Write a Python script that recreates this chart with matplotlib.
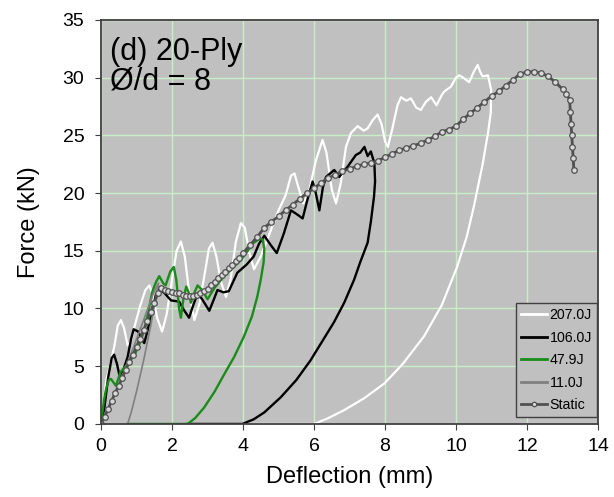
import matplotlib
matplotlib.use("Agg")
import matplotlib.pyplot as plt

plt.rcParams['font.family'] = ['Liberation Sans', 'DejaVu Sans']

# 207.0J (white)
x207 = [0, 0.08, 0.15, 0.25, 0.38, 0.47, 0.56, 0.65, 0.75, 0.85, 0.95, 1.1, 1.25, 1.36, 1.46, 1.58, 1.72,
        1.85, 2.0, 2.13, 2.25, 2.36, 2.48, 2.63, 2.78, 2.92, 3.04, 3.14, 3.25, 3.38, 3.52, 3.65, 3.8, 3.94,
        4.05, 4.18, 4.31, 4.5, 4.75, 5.0, 5.2, 5.35, 5.45, 5.55, 5.7, 5.85, 6.05, 6.24, 6.35, 6.5, 6.62,
        6.75, 6.9, 7.04, 7.23, 7.4, 7.51, 7.65, 7.79, 7.9, 8.0, 8.08, 8.2, 8.35, 8.45, 8.6, 8.73, 8.88,
        9.01, 9.15, 9.3, 9.45, 9.6, 9.67, 9.85, 10.0, 10.09, 10.2, 10.37, 10.5, 10.61, 10.68, 10.75, 10.9,
        10.99, 10.98, 10.9, 10.75, 10.5, 10.3, 10.03, 9.6, 9.1, 8.5, 7.98, 7.4, 6.85, 6.4, 6.0, 3.98]
y207 = [0, 2.0, 3.8, 5.0, 6.8, 8.5, 9.0, 8.3, 6.8, 7.2, 8.5, 10.2, 11.6, 12.0, 11.2, 9.2, 8.0,
        9.5, 12.5, 15.0, 15.8, 14.5, 11.5, 9.0, 10.5, 13.0, 15.2, 15.7, 14.5, 12.3, 11.0, 12.5, 15.8, 17.4,
        17.0, 14.8, 13.4, 14.5, 16.5, 18.5, 19.8, 21.5, 21.7, 20.6, 19.1, 20.0, 22.8, 24.6, 23.5, 20.3, 19.1,
        20.8, 24.0, 25.2, 25.8, 25.4, 25.6, 26.3, 26.8, 26.0, 24.5, 24.0, 25.5, 27.6, 28.3, 28.0, 28.2, 27.4,
        27.2, 27.9, 28.3, 27.6, 28.5, 28.8, 29.2, 30.0, 30.2, 30.0, 29.6, 30.5, 31.1, 30.5, 30.1, 30.2,
        28.9, 27.0, 25.2, 22.5, 18.8, 16.2, 13.6, 10.3, 7.6, 5.2, 3.5, 2.2, 1.2, 0.5, 0, 0]

# 106.0J (black)
x106 = [0, 0.1, 0.2, 0.3, 0.37, 0.45, 0.52, 0.62, 0.75, 0.85, 0.92, 1.05, 1.15, 1.22, 1.32, 1.45, 1.55,
        1.65, 1.8, 1.97, 2.2, 2.35, 2.48, 2.6, 2.72, 2.85, 3.05, 3.18, 3.28, 3.45, 3.6, 3.72, 3.84, 4.1,
        4.3, 4.45, 4.6, 4.78, 4.95, 5.15, 5.35, 5.5, 5.68, 5.82, 5.96, 6.05, 6.15, 6.25, 6.34, 6.57, 6.71,
        6.95, 7.18, 7.3, 7.42, 7.51, 7.6, 7.7, 7.72, 7.69, 7.6, 7.51, 7.3, 7.13, 6.85, 6.56, 6.2, 5.9,
        5.5, 5.06, 4.6, 4.3, 3.98, 2.44]
y106 = [0, 1.5, 4.0, 5.7, 6.0, 5.2, 4.2, 4.6, 5.8, 7.4, 8.2, 8.0, 7.3, 7.0, 8.2, 10.0, 11.2,
        11.7, 11.3, 10.7, 10.6, 9.8, 9.2, 10.3, 11.3, 10.8, 9.8, 10.8, 11.6, 11.4, 11.5, 12.3, 13.1, 13.8,
        14.5, 15.6, 16.3, 15.5, 14.8, 16.5, 18.5, 18.2, 17.8, 19.5, 21.0, 20.0, 18.5, 20.5, 21.4, 22.0, 21.4,
        22.3, 23.3, 23.5, 24.0, 23.2, 23.6, 22.6, 21.0, 19.7, 17.5, 15.7, 14.0, 12.5, 10.5, 8.8, 7.0, 5.5,
        3.8, 2.3, 1.0, 0.4, 0, 0]

# 47.9J (green)
x479 = [0, 0.08, 0.14, 0.22, 0.28, 0.35, 0.42, 0.55, 0.75, 0.95, 1.12, 1.25, 1.35, 1.45, 1.55, 1.64, 1.75,
        1.82, 1.95, 2.05, 2.12, 2.2, 2.25, 2.32, 2.4, 2.47, 2.53, 2.62, 2.72, 2.85, 3.0, 3.2, 3.47, 3.94,
        4.3, 4.45, 4.55, 4.6, 4.58, 4.5, 4.4, 4.25, 4.03, 3.75, 3.47, 3.2, 2.9, 2.65, 2.44, 0.75]
y479 = [0, 2.0, 3.0, 3.8, 3.9, 3.6, 3.3, 4.5, 5.2, 6.0, 7.2, 8.5, 10.0, 11.5, 12.3, 12.8, 12.2,
        12.0, 13.2, 13.6, 12.5, 10.0, 9.2, 10.8, 11.9, 11.4, 10.5, 11.3, 12.0, 11.6, 10.8, 11.8, 12.8, 14.2,
        15.7, 16.0, 16.0, 15.2, 14.0, 12.5, 11.0, 9.3, 7.6, 5.8, 4.3, 2.8, 1.4, 0.5, 0, 0]

# 11.0J (grey)
x110 = [0, 0.3, 0.6, 0.9, 1.2, 1.5, 1.62, 1.55, 1.4, 1.2, 1.0, 0.85, 0.75]
y110 = [0, 2.0, 4.2, 6.5, 9.0, 11.5, 12.2, 11.0, 8.5, 5.5, 2.8, 1.0, 0]

# Static
xst = [0, 0.1, 0.2, 0.3, 0.4, 0.5, 0.6, 0.7, 0.8, 0.9, 1.0, 1.1, 1.2, 1.3, 1.4, 1.5, 1.6, 1.7, 1.8, 1.9,
       2.0, 2.1, 2.2, 2.3, 2.4, 2.5, 2.6, 2.7, 2.8, 2.9, 3.0, 3.1, 3.2, 3.3, 3.4, 3.5, 3.6, 3.7, 3.8, 3.9,
       4.0, 4.2, 4.4, 4.6, 4.8, 5.0, 5.2, 5.4, 5.6, 5.8, 6.0, 6.2, 6.4, 6.6, 6.8, 7.0, 7.2, 7.4, 7.6, 7.8,
       8.0, 8.2, 8.4, 8.6, 8.8, 9.0, 9.2, 9.4, 9.6, 9.8, 10.0, 10.2, 10.4, 10.6, 10.8, 11.0, 11.2, 11.4,
       11.6, 11.8, 12.0, 12.2, 12.4, 12.6, 12.8, 13.0, 13.1, 13.2, 13.22, 13.24, 13.26, 13.28, 13.3, 13.32]
yst = [0, 0.6, 1.3, 2.0, 2.7, 3.3, 4.0, 4.7, 5.4, 6.0, 6.7, 7.4, 8.1, 8.9, 9.7, 10.5, 11.3, 11.8, 11.6, 11.5,
       11.4, 11.3, 11.3, 11.2, 11.1, 11.1, 11.1, 11.2, 11.3, 11.5, 11.7, 12.0, 12.3, 12.6, 12.9, 13.2, 13.5, 13.8, 14.1, 14.4,
       14.8, 15.5, 16.2, 17.0, 17.5, 18.0, 18.5, 19.0, 19.5, 20.0, 20.4, 20.9, 21.3, 21.6, 21.9, 22.1, 22.3, 22.5, 22.6, 22.8,
       23.1, 23.4, 23.7, 23.9, 24.1, 24.3, 24.6, 24.9, 25.3, 25.5, 25.8, 26.4, 26.9, 27.4, 27.9, 28.4, 28.8, 29.3,
       29.8, 30.3, 30.5, 30.5, 30.4, 30.1, 29.6, 29.0, 28.6, 28.1, 27.0, 26.0, 25.0, 24.0, 23.0, 22.0]

xticks = [0, 2, 4, 6, 8, 10, 12, 14]
yticks = [0, 5, 10, 15, 20, 25, 30, 35]

fig = plt.figure(figsize=(6.14, 4.97), dpi=100)
ax = fig.add_axes([0.1645, 0.147, 0.8095, 0.813])
ax.set_facecolor('#c0c0c0')
ax.grid(True, color='#c8eec8', lw=1.0)
ax.set_axisbelow(True)

ax.plot(x207, y207, color='white', lw=1.6, label='207.0J', solid_joinstyle='round')
ax.plot(x106, y106, color='black', lw=1.7, label='106.0J', solid_joinstyle='round')
ax.plot(x479, y479, color='#1a8c1a', lw=1.7, label='47.9J', solid_joinstyle='round')
ax.plot(x110, y110, color='#808080', lw=1.2, label='11.0J')
ax.plot(xst, yst, color='#505050', lw=2.0, marker='o', ms=4, mfc='#d8d8d8', mec='#505050',
        mew=0.9, label='Static')

ax.set_xlim(0, 14)
ax.set_ylim(0, 35)
ax.set_xticks(xticks)
ax.set_yticks(yticks)
ax.tick_params(axis='both', labelsize=14, length=4, direction='out', color='#404040')
ax.tick_params(axis='y', pad=8)
ax.tick_params(axis='x', pad=6)
for s in ax.spines.values():
    s.set_color('#404040')
    s.set_linewidth(1.3)
ax.set_xlabel('Deflection (mm)', fontsize=17, labelpad=8)
ax.set_ylabel('Force (kN)', fontsize=17, labelpad=16)

ax.text(0.018, 0.958, '(d) 20-Ply\nØ/d = 8', transform=ax.transAxes, fontsize=22,
        va='top', ha='left', linespacing=1.0)

leg = ax.legend(loc='lower right', bbox_to_anchor=(0.998, 0.017), fontsize=10.2, frameon=True,
                fancybox=False, facecolor='#c0c0c0', edgecolor='#404040', framealpha=1,
                handlelength=1.8, handletextpad=0.2, borderpad=0.35, labelspacing=0.6,
                borderaxespad=0, markerscale=0.8)
leg.get_frame().set_linewidth(1.0)
for h in leg.get_lines():
    h.set_linewidth(2.0)

fig.savefig('out.png', dpi=100)
